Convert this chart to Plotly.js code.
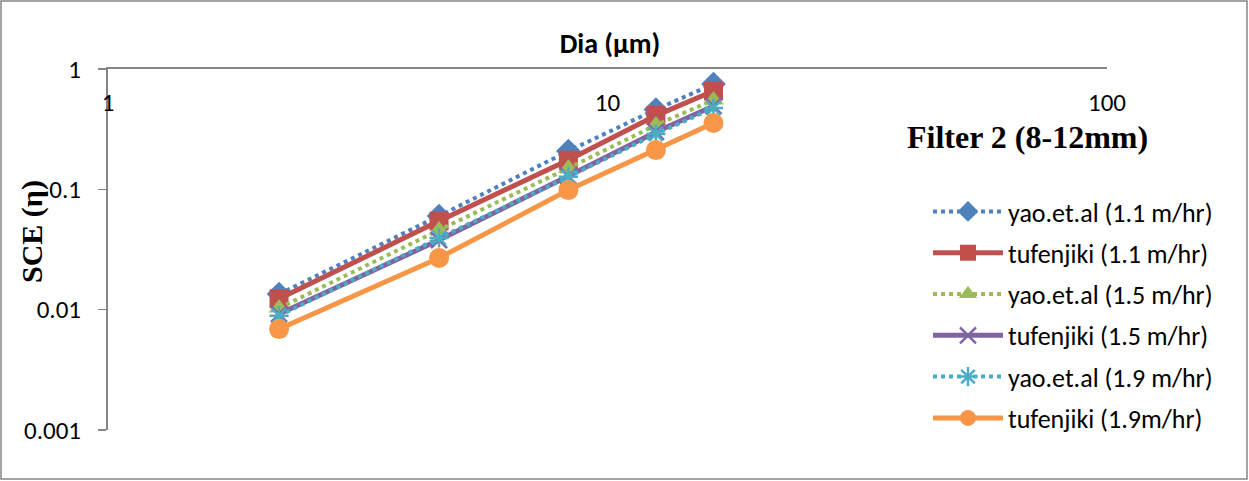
<!DOCTYPE html>
<html>
<head>
<meta charset="utf-8">
<script src="https://cdn.plot.ly/plotly-3.0.1.min.js"></script>
<style>
html,body{margin:0;padding:0;background:#fff;}
#chart{width:1249px;height:481px;}
</style>
</head>
<body>
<div id="chart"></div>
<script>
// Data
const dia = [2.2, 4.6, 8.35, 12.5, 16.3];
const yao11 = [0.0135, 0.060, 0.208, 0.46, 0.75];
const tuf11 = [0.0123, 0.0545, 0.175, 0.41, 0.656];
const yao15 = [0.0103, 0.0459, 0.150, 0.342, 0.552];
const tuf15 = [0.0092, 0.0379, 0.129, 0.30, 0.492];
const yao19 = [0.0089, 0.0394, 0.127, 0.288, 0.474];
const tuf19 = [0.0069, 0.0269, 0.0986, 0.212, 0.356];
const seriesNames = [
  'yao.et.al (1.1 m/hr)', 'tufenjiki (1.1 m/hr)',
  'yao.et.al (1.5 m/hr)', 'tufenjiki (1.5 m/hr)',
  'yao.et.al (1.9 m/hr)', 'tufenjiki (1.9m/hr)'
];
const xTickVals = [1, 10, 100];
const xTickText = ['1', '10', '100'];
const yTickVals = [0.001, 0.01, 0.1, 1];
const yTickText = ['0.001', '0.01', '0.1', '1'];

const font = 'Carlito, Lato, "Liberation Sans", sans-serif';
const serif = '"Liberation Serif", "Times New Roman", serif';
const C = {blue:'#4F81BD', red:'#C0504D', green:'#9BBB59', purple:'#8064A2', aqua:'#4BACC6', orange:'#F79646'};

function tr(y, i, color, dash, width, symbol, size, mline) {
  return {
    x: dia, y: y, name: seriesNames[i], type: 'scatter', mode: 'lines+markers',
    legendgroup: 'g' + i,
    line: {color: color, dash: dash, width: width},
    marker: {symbol: symbol, size: size, color: color, line: {color: color, width: mline}}
  };
}

const data = [
  tr(yao11, 0, C.blue, 'dot', 4, 'diamond', 19, 0),
  tr(tuf11, 1, C.red, 'solid', 5, 'square', 19, 0),
  tr(yao15, 2, C.green, 'dot', 4, 'triangle-up', 18, 0),
  tr(tuf15, 3, C.purple, 'solid', 5, 'x-thin-open', 16, 2.5),
  tr(yao19, 4, C.aqua, 'dot', 4, 'asterisk-open', 16, 2.5),
  tr(tuf19, 5, C.orange, 'solid', 5, 'circle', 20, 0)
];

const W = 1249, H = 481, L = 108, R = 142, T = 69, B = 51;
const pw = W - L - R, ph = H - T - B;
const px = v => (v - L) / pw;
const py = v => (H - B - v) / ph;

const layout = {
  width: W, height: H,
  margin: {l: L, r: R, t: T, b: B},
  paper_bgcolor: '#fff', plot_bgcolor: '#fff',
  font: {family: font, size: 24, color: '#000'},
  showlegend: true,
  title: {text: '<b>Dia (µm)</b>', font: {family: font, size: 28, color: '#000'},
          x: 610 / W, xanchor: 'center', y: 1 - 43 / H, yanchor: 'middle', xref: 'container', yref: 'container'},
  xaxis: {
    type: 'log', range: [0, 2], side: 'top', tickvals: xTickVals, ticktext: xTickText,
    ticklabelposition: 'inside', ticklabeloverflow: 'allow', ticklabelstandoff: 26,
    ticks: '', showgrid: false, zeroline: false,
    showline: true, linecolor: '#868686', linewidth: 2, mirror: false,
    tickfont: {family: font, size: 25, color: '#000'}
  },
  yaxis: {
    type: 'log', range: [-3, 0], tickvals: yTickVals, ticktext: yTickText,
    ticks: 'outside', ticklen: 8, tickcolor: '#868686', tickwidth: 1.5,
    ticklabeloverflow: 'allow',
    showgrid: false, zeroline: false, showline: true, linecolor: '#868686', linewidth: 2,
    tickfont: {family: font, size: 25, color: '#000'}, ticklabelstandoff: 12
  },
  legend: {
    x: px(928), xanchor: 'left', y: py(188), yanchor: 'top',
    traceorder: 'grouped', tracegroupgap: 4.5, itemwidth: 70,
    font: {family: font, size: 26, color: '#000'}, bgcolor: 'rgba(0,0,0,0)'
  },
  annotations: [
    {text: '<b>Filter 2 (8-12mm)</b>', xref: 'paper', yref: 'paper', x: px(1027), y: py(137),
     xanchor: 'center', yanchor: 'middle', showarrow: false,
     font: {family: serif, size: 32, color: '#000'}},
    {text: '<b>SCE (η)</b>', xref: 'paper', yref: 'paper', x: px(32), y: py(232),
     xanchor: 'center', yanchor: 'middle', showarrow: false, textangle: -90,
     font: {family: serif, size: 30, color: '#000'}}
  ],
  shapes: [
    {type: 'rect', xref: 'paper', yref: 'paper', x0: px(1), x1: px(1247), y0: py(479), y1: py(1),
     line: {color: '#868686', width: 1.5}, fillcolor: 'rgba(0,0,0,0)', layer: 'below'}
  ]
};

Plotly.newPlot('chart', data, layout, {displayModeBar: false, staticPlot: true});
</script>
</body>
</html>
